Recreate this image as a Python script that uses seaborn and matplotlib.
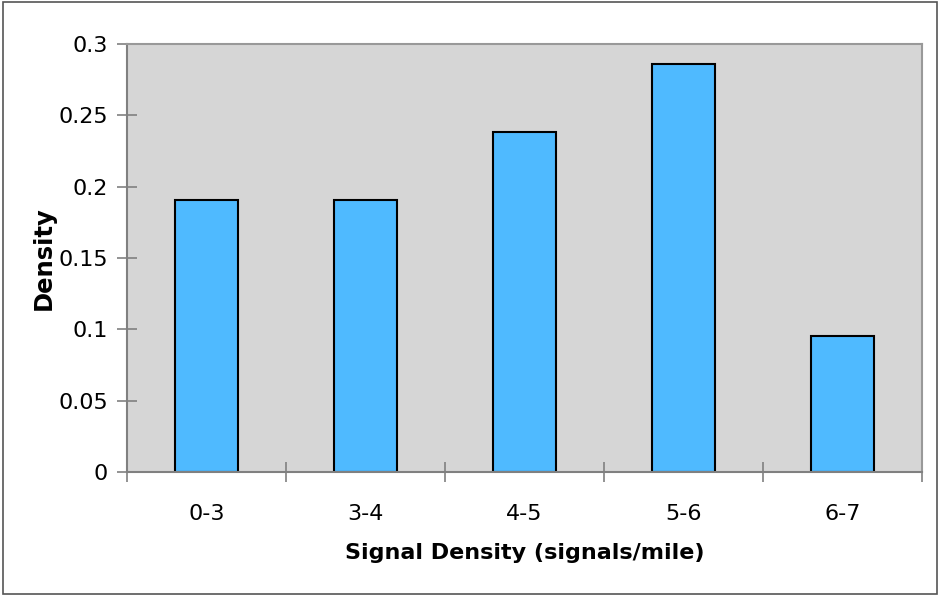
import matplotlib
matplotlib.use("Agg")
import matplotlib.pyplot as plt
import seaborn as sns
import pandas as pd
from matplotlib.patches import Rectangle
from matplotlib.ticker import FixedLocator, FixedFormatter, NullFormatter

categories = ["0-3", "3-4", "4-5", "5-6", "6-7"]
density = [0.1905, 0.1905, 0.2381, 0.2857, 0.0952]
yticks = [0, 0.05, 0.1, 0.15, 0.2, 0.25, 0.3]
ytick_labels = ["0", "0.05", "0.1", "0.15", "0.2", "0.25", "0.3"]

df = pd.DataFrame({"cat": categories, "density": density})

sns.set_style("white")
plt.rcParams["font.family"] = ["DejaVu Sans"]
plt.rcParams["text.color"] = "black"
plt.rcParams["xtick.color"] = "black"
plt.rcParams["ytick.color"] = "black"
plt.rcParams["axes.labelcolor"] = "black"

fig = plt.figure(figsize=(9.41, 5.95), dpi=100)
ax = fig.add_axes([127/941, 1-472/595, (922-127)/941, (472-44)/595])
ax.set_facecolor("#d6d6d6")

sns.barplot(data=df, x="cat", y="density", ax=ax, width=0.4,
            color="#4fbaff", edgecolor="black", linewidth=1.5, saturation=1)

ax.set_xlim(-0.5, len(categories) - 0.5)
ax.set_ylim(0, 0.3)
ax.yaxis.set_major_locator(FixedLocator(yticks))
ax.yaxis.set_major_formatter(FixedFormatter(ytick_labels))

ax.xaxis.set_major_locator(FixedLocator([i - 0.5 for i in range(len(categories) + 1)]))
ax.xaxis.set_major_formatter(NullFormatter())
ax.xaxis.set_minor_locator(FixedLocator(list(range(len(categories)))))
ax.xaxis.set_minor_formatter(FixedFormatter(categories))
ax.tick_params(axis="x", which="major", bottom=True, direction="inout", length=15, width=1.2,
               color="#808080")
ax.tick_params(axis="x", which="minor", bottom=True, length=0, pad=23, labelsize=16,
               labelcolor="black")
ax.tick_params(axis="y", which="major", left=True, direction="inout", length=15, width=1.2,
               color="#808080", labelsize=16, pad=6, labelcolor="black")

for s in ["left", "bottom"]:
    ax.spines[s].set_color("#808080")
    ax.spines[s].set_linewidth(1.5)
for s in ["top", "right"]:
    ax.spines[s].set_color("#999999")
    ax.spines[s].set_linewidth(1.5)

ax.set_xlabel("Signal Density (signals/mile)", fontsize=16, fontweight="bold", labelpad=14,
              color="black")
ax.set_ylabel("Density", fontsize=17.5, fontweight="bold", labelpad=2, color="black")

fig.patches.append(Rectangle((3/941, 1/595), 934/941, 592/595, transform=fig.transFigure,
                             fill=False, edgecolor="#555555", linewidth=1.2))

fig.savefig("out.png", dpi=100)
